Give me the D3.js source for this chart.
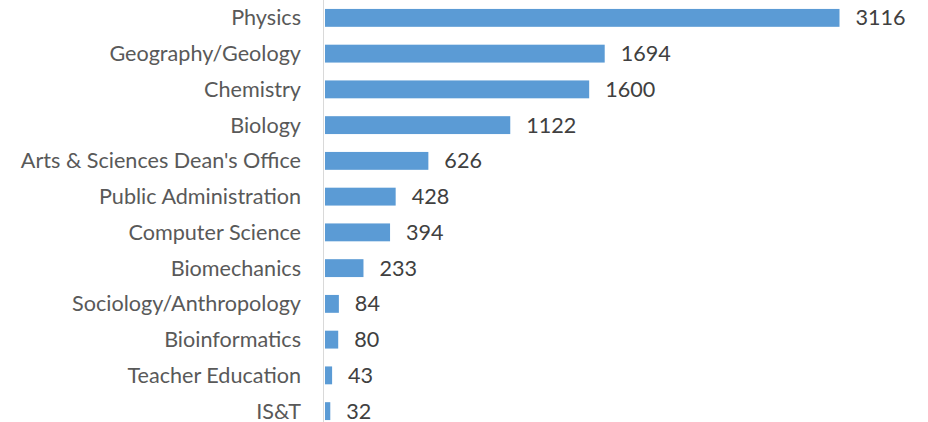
<!DOCTYPE html>
<html><head><meta charset="utf-8">
<script src="https://cdn.jsdelivr.net/npm/d3@7"></script>
<style>html,body{margin:0;padding:0;background:#fff;}</style>
</head><body>
<svg id="c" width="928" height="422"></svg>
<script>
const categories = ["Physics","Geography/Geology","Chemistry","Biology","Arts & Sciences Dean's Office","Public Administration","Computer Science","Biomechanics","Sociology/Anthropology","Bioinformatics","Teacher Education","IS&T"];
const values = [3116,1694,1600,1122,626,428,394,233,84,80,43,32];

const svg = d3.select("#c");
const font = "Lato, 'Open Sans', sans-serif";
const fs = 21.6;
const x = d3.scaleLinear().domain([0, 3116]).range([325, 839.5]);
const y = d3.scaleBand().domain(categories).range([0, 429]).paddingInner(0.5).paddingOuter(0.25);

svg.selectAll("rect.bar").data(values).join("rect")
  .attr("class","bar")
  .attr("x", x(0))
  .attr("y", (d,i) => y(categories[i]))
  .attr("width", d => x(d) - x(0))
  .attr("height", y.bandwidth())
  .attr("fill", "#5b9bd5");

svg.append("line").attr("x1",323.5).attr("x2",323.5).attr("y1",0).attr("y2",422)
  .attr("stroke","#d9d9d9").attr("stroke-width",1);

svg.selectAll("text.cat").data(categories).join("text")
  .attr("class","cat")
  .attr("x", 301)
  .attr("y", d => y(d) + y.bandwidth()/2)
  .attr("dy","0.35em")
  .attr("text-anchor","end")
  .attr("font-family", font).attr("font-size", fs).attr("fill","#595959")
  .text(d => d);

svg.selectAll("text.val").data(values).join("text")
  .attr("class","val")
  .attr("x", d => x(d) + 16)
  .attr("y", (d,i) => y(categories[i]) + y.bandwidth()/2)
  .attr("dy","0.35em")
  .attr("font-family", font).attr("font-size", fs).attr("fill","#404040")
  .text(d => d);
</script>
</body></html>
